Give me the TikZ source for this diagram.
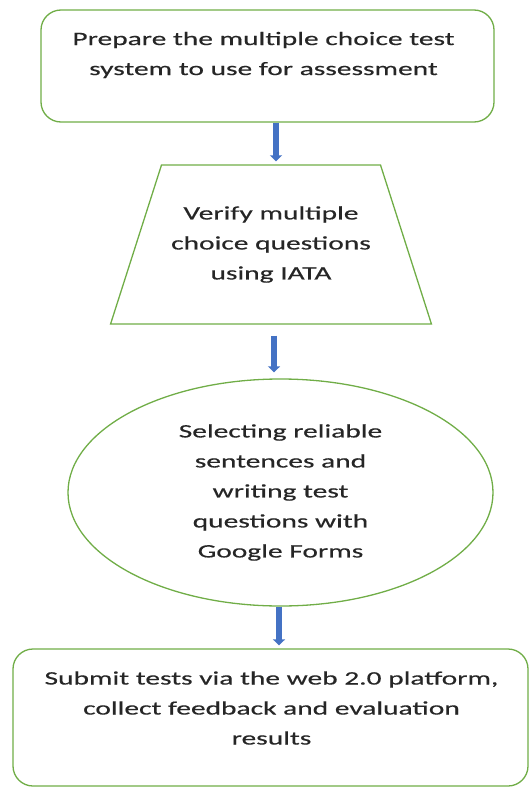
\documentclass[tikz,border=0pt]{standalone}
\usepackage{fontspec}
\setmainfont{Carlito}[FakeStretch=1.55,FakeBold=0.4]
\usetikzlibrary{shapes.geometric,arrows.meta}

\definecolor{boxgreen}{HTML}{70AD47}
\definecolor{flowblue}{HTML}{4472C4}
\definecolor{textgray}{HTML}{262626}

\tikzset{
  stepbox/.style={draw=boxgreen, line width=1.3pt},
  steptext/.style={text=textgray, align=center, font=\fontsize{19}{30}\selectfont},
  flow/.style={draw=flowblue, line width=5.5pt, -{Triangle[width=12pt,length=6pt]}},
}

\begin{document}
\begin{tikzpicture}[x=1pt,y=1pt]
\useasboundingbox (0,0) rectangle (529,-787);

\node[stepbox, rounded corners=20pt, minimum width=453pt, minimum height=112pt] (prep) at (267.5,-66) {};
\node[steptext] (preptext) at (263.5,-55) {Prepare the multiple choice test\\system to use for assessment};

\node[stepbox, steptext, trapezium, trapezium stretches=true, trapezium angle=60,
      minimum width=322pt, minimum height=159pt] (verify) at (271,-244.5) {Verify multiple\\choice questions\\using IATA};

\node[stepbox, steptext, ellipse, inner sep=0pt, minimum width=425pt, minimum height=227pt] (select) at (280.5,-492.5)
  {Selecting reliable\\sentences and\\writing test\\questions with\\Google Forms};

\node[stepbox, rounded corners=20pt, minimum width=515pt, minimum height=137pt] (submit) at (270.5,-717.5) {};
\node[steptext] (submittext) at (271.5,-708) {Submit tests via the web 2.0 platform,\\collect feedback and evaluation\\results};

\draw[flow, shorten >=3pt] ([xshift=8.5pt]prep.south) -- ([xshift=8.5pt]prep.south |- verify.north);
\draw[flow, shorten <=11pt, shorten >=6pt] ([xshift=3pt]verify.south) -- ([xshift=3pt]verify.south |- select.north);
\draw[flow, shorten >=3pt] ([xshift=-1.5pt]select.south) -- ([xshift=-1.5pt]select.south |- submit.north);

\end{tikzpicture}
\end{document}
